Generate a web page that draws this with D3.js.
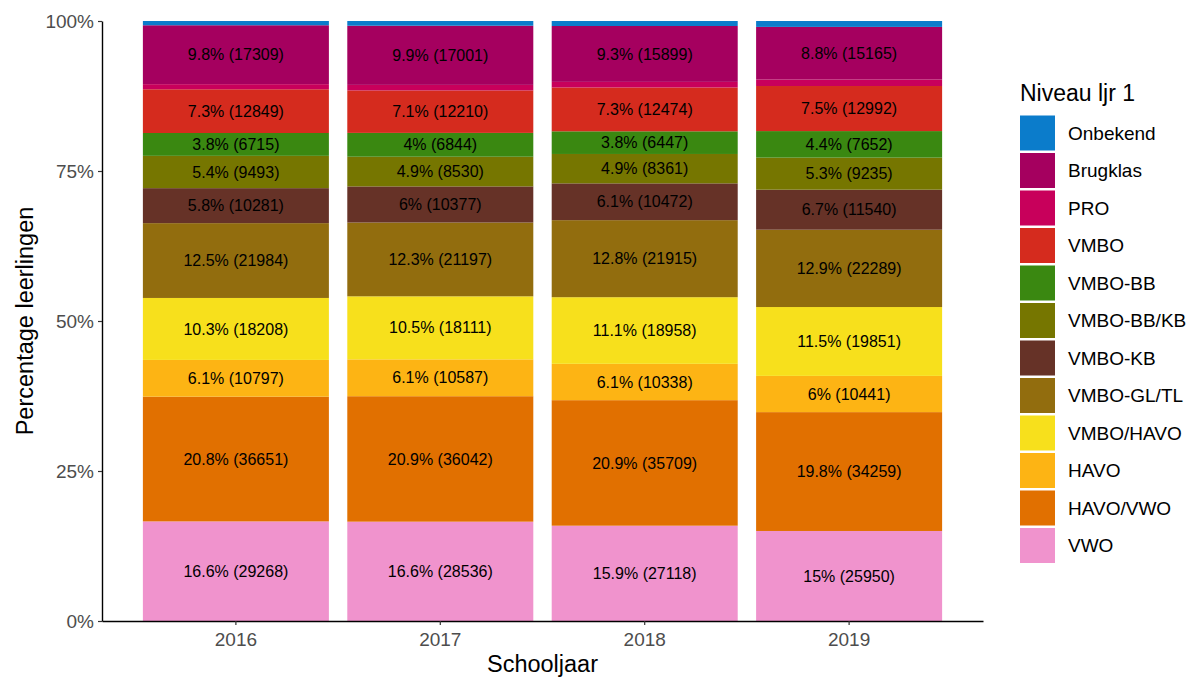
<!DOCTYPE html>
<html>
<head>
<meta charset="utf-8">
<script src="https://cdn.jsdelivr.net/npm/d3@7"></script>
<style>
  body { margin: 0; background: #fff; }
  text { font-family: Arial, "Liberation Sans", sans-serif; }
</style>
</head>
<body>
<script>
const years = ["2016", "2017", "2018", "2019"];
// legend order, top to bottom
const levels = ["Onbekend", "Brugklas", "PRO", "VMBO", "VMBO-BB", "VMBO-BB/KB",
  "VMBO-KB", "VMBO-GL/TL", "VMBO/HAVO", "HAVO", "HAVO/VWO", "VWO"];
const colors = ["#0b7ccb", "#a5005f", "#c8005b", "#d52b1e", "#3a8811", "#767600",
  "#663227", "#926d0e", "#f7e01c", "#fdb414", "#e17000", "#f093cd"];
// counts per level, one value per year
const Onbekend   = [1250, 1350, 1420, 1700];
const Brugklas   = [17309, 17001, 15899, 15165];
const PRO        = [1500, 1585, 1590, 1876];
const VMBO       = [12849, 12210, 12474, 12992];
const VMBO_BB    = [6715, 6844, 6447, 7652];
const VMBO_BBKB  = [9493, 8530, 8361, 9235];
const VMBO_KB    = [10281, 10377, 10472, 11540];
const VMBO_GLTL  = [21984, 21197, 21915, 22289];
const VMBO_HAVO  = [18208, 18111, 18958, 19851];
const HAVO       = [10797, 10587, 10338, 10441];
const HAVO_VWO   = [36651, 36042, 35709, 34259];
const VWO        = [29268, 28536, 27118, 25950];
const counts = [Onbekend, Brugklas, PRO, VMBO, VMBO_BB, VMBO_BBKB, VMBO_KB,
  VMBO_GLTL, VMBO_HAVO, HAVO, HAVO_VWO, VWO];
const noLabel = ["Onbekend", "PRO"];
const yTicks = [0, 0.25, 0.5, 0.75, 1];

const width = 1189, height = 677;
const margin = {left: 102, right: 206, top: 21, bottom: 56};

const rows = years.map((y, i) => {
  const r = {year: y};
  levels.forEach((l, j) => r[l] = counts[j][i]);
  r.total = d3.sum(levels, l => r[l]);
  return r;
});

const stackKeys = levels.slice().reverse(); // VWO at the bottom
const series = d3.stack().keys(stackKeys)
  .value((d, k) => d[k] / d.total)(rows);

const color = d3.scaleOrdinal().domain(levels).range(colors);

const svg = d3.select("body").append("svg")
  .attr("width", width).attr("height", height);

const x = d3.scaleBand().domain(years)
  .range([margin.left, width - margin.right])
  .paddingInner(0.09).paddingOuter(0.2);
const y = d3.scaleLinear().domain([0, 1])
  .range([height - margin.bottom, margin.top]);

const layers = svg.append("g").selectAll("g")
  .data(series).enter().append("g")
  .attr("fill", d => color(d.key));

layers.selectAll("rect")
  .data(d => d.map(p => ({key: d.key, p})))
  .enter().append("rect")
  .attr("x", d => x(d.p.data.year))
  .attr("width", x.bandwidth())
  .attr("y", d => y(d.p[1]))
  .attr("height", d => y(d.p[0]) - y(d.p[1]));

const fmtPct = v => (+(v * 100).toFixed(1)) + "%";

layers.selectAll("text")
  .data(d => noLabel.includes(d.key) ? [] : d.map(p => ({key: d.key, p})))
  .enter().append("text")
  .attr("x", d => x(d.p.data.year) + x.bandwidth() / 2)
  .attr("y", d => y((d.p[0] + d.p[1]) / 2))
  .attr("dy", "0.35em")
  .attr("text-anchor", "middle")
  .attr("fill", "#000")
  .style("font-size", "16px")
  .text(d => fmtPct(d.p[1] - d.p[0]) + " (" + d.p.data[d.key] + ")");

// axes
const xAxis = svg.append("g")
  .attr("transform", `translate(0,${height - margin.bottom})`)
  .call(d3.axisBottom(x).tickSize(4).tickSizeOuter(0));
const yAxis = svg.append("g")
  .attr("transform", `translate(${margin.left},0)`)
  .call(d3.axisLeft(y).tickValues(yTicks).tickFormat(d => d * 100 + "%").tickSize(4).tickSizeOuter(0));

[xAxis, yAxis].forEach(a => {
  a.select(".domain").attr("stroke", "#000").attr("stroke-width", 1.4);
  a.selectAll(".tick line").attr("stroke", "#333").attr("stroke-width", 1.2);
  a.selectAll(".tick text").attr("fill", "#4d4d4d")
    .style("font-size", "19px").style("font-family", "Arial, 'Liberation Sans', sans-serif");
});
xAxis.selectAll(".tick text").attr("dy", "0.95em");
yAxis.selectAll(".tick text").attr("x", -8);

svg.append("text")
  .attr("x", (margin.left + width - margin.right) / 2)
  .attr("y", 672)
  .attr("text-anchor", "middle")
  .style("font-size", "23.5px")
  .text("Schooljaar");

svg.append("text")
  .attr("transform", `translate(33,${(margin.top + height - margin.bottom) / 2}) rotate(-90)`)
  .attr("text-anchor", "middle")
  .style("font-size", "23.5px")
  .text("Percentage leerlingen");

// legend
const legend = svg.append("g").attr("transform", "translate(1020,0)");
legend.append("text")
  .attr("x", 0).attr("y", 101)
  .style("font-size", "23px")
  .text("Niveau ljr 1");

const item = legend.selectAll("g.item")
  .data(levels).enter().append("g")
  .attr("class", "item")
  .attr("transform", (d, i) => `translate(0,${115.5 + i * 37.5})`);
item.append("rect")
  .attr("width", 35).attr("height", 35)
  .attr("fill", d => color(d));
item.append("text")
  .attr("x", 48).attr("y", 17.5)
  .attr("dy", "0.35em")
  .style("font-size", "19px")
  .text(d => d);
</script>
</body>
</html>
